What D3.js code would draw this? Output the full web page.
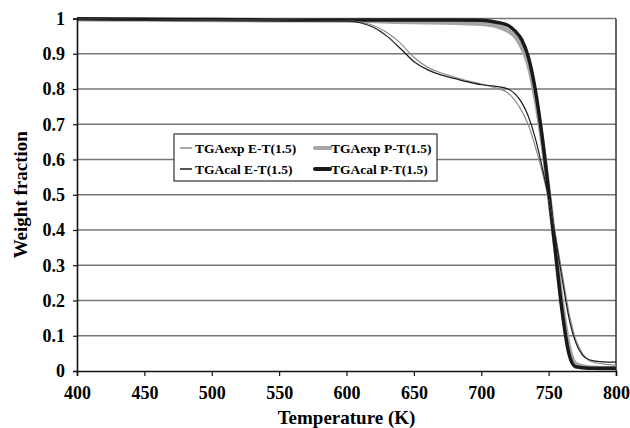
<!DOCTYPE html>
<html>
<head>
<meta charset="utf-8">
<script src="https://cdn.jsdelivr.net/npm/d3@7"></script>
<style>
  body { margin: 0; background: #fff; }
  svg { font-family: "Liberation Serif", "Times New Roman", serif; font-weight: bold; }
</style>
</head>
<body>
<svg id="chart" width="630" height="428"></svg>
<script>
// temperatures (K) and weight fractions
const tempET = [400, 450, 500, 550, 600, 610, 620, 630, 640, 650, 660, 670, 680, 690, 700, 710, 720, 725, 730, 735, 740, 745, 750, 755, 760, 765, 770, 775, 780, 790, 800];
const expET = [0.998, 0.997, 0.996, 0.995, 0.993, 0.99, 0.98, 0.96, 0.93, 0.89, 0.862, 0.846, 0.834, 0.823, 0.814, 0.804, 0.788, 0.768, 0.738, 0.698, 0.638, 0.568, 0.488, 0.388, 0.278, 0.168, 0.09, 0.05, 0.03, 0.02, 0.016];
const calET = [0.998, 0.997, 0.996, 0.995, 0.993, 0.988, 0.975, 0.95, 0.915, 0.878, 0.855, 0.84, 0.83, 0.82, 0.812, 0.808, 0.8, 0.786, 0.762, 0.722, 0.662, 0.582, 0.49, 0.38, 0.262, 0.152, 0.082, 0.046, 0.032, 0.026, 0.025];

const tempPT = [400, 450, 500, 550, 600, 650, 680, 700, 710, 720, 725, 730, 735, 740, 745, 750, 755, 760, 765, 770, 780, 790, 800];
const expPT = [0.998, 0.997, 0.996, 0.995, 0.994, 0.99, 0.988, 0.985, 0.98, 0.965, 0.95, 0.92, 0.87, 0.78, 0.66, 0.51, 0.35, 0.19, 0.07, 0.02, 0.01, 0.008, 0.008];
const calPT = [0.999, 0.998, 0.997, 0.996, 0.996, 0.996, 0.996, 0.995, 0.99, 0.98, 0.965, 0.94, 0.89, 0.8, 0.67, 0.51, 0.34, 0.17, 0.05, 0.012, 0.008, 0.008, 0.008];

const xTicks = [400, 450, 500, 550, 600, 650, 700, 750, 800];
const yTicks = [0, 0.1, 0.2, 0.3, 0.4, 0.5, 0.6, 0.7, 0.8, 0.9, 1];

const series = [
  { name: "TGAexp E-T(1.5)", t: tempET, w: expET, color: "#8c8c8c", width: 1.2 },
  { name: "TGAcal E-T(1.5)", t: tempET, w: calET, color: "#1a1a1a", width: 1.2 },
  { name: "TGAexp P-T(1.5)", t: tempPT, w: expPT, color: "#a6a6a6", width: 4.5 },
  { name: "TGAcal P-T(1.5)", t: tempPT, w: calPT, color: "#1a1a1a", width: 3.5 }
];

const svg = d3.select("#chart");
const margin = { left: 77, right: 14, top: 18.5, bottom: 57 };
const width = 630, height = 428;

const x = d3.scaleLinear().domain([400, 800]).range([margin.left, width - margin.right]);
const y = d3.scaleLinear().domain([0, 1]).range([height - margin.bottom, margin.top]);

// gridlines
svg.append("g")
  .selectAll("line")
  .data(yTicks.filter(d => d > 0))
  .enter()
  .append("line")
  .attr("x1", x(400))
  .attr("x2", x(800))
  .attr("y1", d => y(d))
  .attr("y2", d => y(d))
  .attr("stroke", "#777")
  .attr("stroke-width", 1.3);

// right frame
svg.append("line")
  .attr("x1", x(800)).attr("x2", x(800))
  .attr("y1", y(1)).attr("y2", y(0))
  .attr("stroke", "#333").attr("stroke-width", 1.5);

// curves
const line = d3.line()
  .x(d => x(d[0]))
  .y(d => y(d[1]))
  .curve(d3.curveMonotoneX);

const drawOrder = [series[2], series[3], series[0], series[1]];
svg.append("g")
  .selectAll("path")
  .data(drawOrder)
  .enter()
  .append("path")
  .attr("d", s => line(s.t.map((t, i) => [t, s.w[i]])))
  .attr("fill", "none")
  .attr("stroke", s => s.color)
  .attr("stroke-width", s => s.width)
  .attr("stroke-linejoin", "round");

// axes
const xAxis = svg.append("g")
  .attr("transform", `translate(0,${y(0)})`)
  .call(d3.axisBottom(x).tickValues(xTicks).tickSize(5).tickPadding(10));
const yAxis = svg.append("g")
  .attr("transform", `translate(${x(400)},0)`)
  .call(d3.axisLeft(y).tickValues(yTicks).tickSize(4).tickPadding(8)
    .tickFormat(d => d === 0 ? "0" : d === 1 ? "1" : d3.format(".1f")(d)));

[xAxis, yAxis].forEach(a => {
  a.select(".domain").attr("stroke", "#111").attr("stroke-width", 1.6);
  a.selectAll(".tick line").attr("stroke", "#111").attr("stroke-width", 1.2);
  a.selectAll("text")
    .attr("fill", "#000")
    .style("font-family", "Liberation Serif, serif")
    .style("font-weight", "bold")
    .style("font-size", "18px");
});

// axis titles
svg.append("text")
  .attr("x", x(600))
  .attr("y", 424)
  .attr("text-anchor", "middle")
  .style("font-size", "19px")
  .text("Temperature (K)");

svg.append("text")
  .attr("transform", `translate(27,${y(0.5)}) rotate(-90)`)
  .attr("text-anchor", "middle")
  .style("font-size", "19px")
  .text("Weight fraction");

// legend
const legend = svg.append("g").attr("transform", "translate(174,134)");
legend.append("rect")
  .attr("width", 263)
  .attr("height", 47)
  .attr("fill", "#fff")
  .attr("stroke", "#333")
  .attr("stroke-width", 1.2);

const legendItems = [
  { s: series[0], col: 0, row: 0 },
  { s: series[2], col: 1, row: 0 },
  { s: series[1], col: 0, row: 1 },
  { s: series[3], col: 1, row: 1 }
];
const item = legend.selectAll("g.item")
  .data(legendItems)
  .enter()
  .append("g")
  .attr("class", "item")
  .attr("transform", d => `translate(${d.col ? 141 : 6},${d.row ? 35 : 14})`);

item.append("line")
  .attr("x1", 0).attr("x2", d => d.col ? 15 : 12)
  .attr("y1", 0).attr("y2", 0)
  .attr("stroke", d => d.s.color)
  .attr("stroke-width", d => d.col ? 4 : 1.5)
  .attr("stroke-linecap", d => d.col ? "round" : "butt");

item.append("text")
  .attr("x", d => d.col ? 16 : 15)
  .attr("y", 4.5)
  .style("font-size", "13.5px")
  .text(d => d.s.name);
</script>
</body>
</html>
